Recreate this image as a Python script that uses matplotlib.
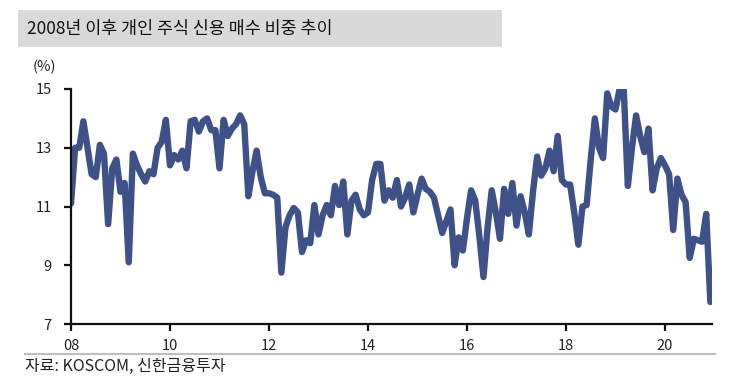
import matplotlib
matplotlib.use("Agg")
import matplotlib.pyplot as plt
from matplotlib.patches import Rectangle
from matplotlib.lines import Line2D

plt.rcParams['font.family'] = ['Noto Sans CJK KR', 'DejaVu Sans']

title = "2008년 이후 개인 주식 신용 매수 비중 추이"
source = "자료: KOSCOM, 신한금융투자"
unit_label = "(%)"

start_year = 2008
# Monthly share (%) from Jan 2008 to Dec 2020
values = [
    11.1, 13.0, 13.0, 13.9, 13.0, 12.1, 12.0, 13.1, 12.8, 10.4, 12.3, 12.6,   # 2008
    11.5, 11.8, 9.1, 12.8, 12.4, 12.1, 11.85, 12.2, 12.1, 13.0, 13.2, 13.95,  # 2009
    12.4, 12.75, 12.6, 12.9, 12.3, 13.9, 13.95, 13.55, 13.9, 14.0, 13.6, 13.6, # 2010
    12.3, 13.95, 13.4, 13.65, 13.8, 14.1, 13.8, 11.35, 12.2, 12.9, 12.0, 11.45, # 2011
    11.45, 11.4, 11.3, 8.75, 10.3, 10.7, 10.95, 10.8, 9.45, 9.85, 9.75, 11.05, # 2012
    10.05, 10.7, 11.05, 10.7, 11.7, 11.05, 11.85, 10.05, 11.2, 11.4, 10.9, 10.7, # 2013
    10.8, 11.9, 12.45, 12.45, 11.2, 11.55, 11.3, 11.9, 11.0, 11.3, 11.75, 10.8, # 2014
    11.4, 11.95, 11.6, 11.5, 11.3, 10.7, 10.1, 10.5, 10.9, 9.0, 9.95, 9.5,     # 2015
    10.6, 11.55, 11.2, 10.0, 8.6, 10.3, 11.55, 10.8, 9.9, 11.6, 10.75, 11.8,   # 2016
    10.35, 11.35, 10.8, 10.05, 11.5, 12.7, 12.05, 12.3, 12.9, 12.2, 13.4, 11.9, # 2017
    11.75, 11.75, 10.8, 9.7, 11.0, 11.05, 12.6, 14.0, 13.0, 12.65, 14.85, 14.4, # 2018
    14.3, 15.0, 15.0, 11.7, 13.0, 14.1, 13.4, 12.85, 13.65, 11.55, 12.3, 12.65, # 2019
    12.4, 12.1, 10.2, 11.95, 11.4, 11.15, 9.25, 9.9, 9.85, 9.8, 10.75, 7.75,   # 2020
]
x_ticks = [2008, 2010, 2012, 2014, 2016, 2018, 2020]
x_tick_labels = ["08", "10", "12", "14", "16", "18", "20"]
y_ticks = [7, 9, 11, 13, 15]

W, H = 745, 376
fig = plt.figure(figsize=(W / 100, H / 100), dpi=100)

# Title box
fig.patches.append(Rectangle((18 / W, 1 - 47 / H), (502 - 18) / W, 37 / H,
                             transform=fig.transFigure, facecolor='#D9D9D9',
                             edgecolor='none', zorder=0))
fig.text(27 / W, 1 - 29 / H, title, fontsize=12.5, color='#111111',
         va='center', ha='left')

ax = fig.add_axes([71 / W, 1 - 324 / H, (712 - 71) / W, (324 - 89) / H])
xs = [start_year + i / 12 for i in range(len(values))]
ax.plot(xs, values, color='#3F5189', lw=4.6, solid_joinstyle='round',
        solid_capstyle='round')

ax.set_xlim(2008, 2020.95)
ax.set_ylim(7, 15)
ax.set_xticks(x_ticks)
ax.set_xticklabels(x_tick_labels)
ax.set_yticks(y_ticks)
for s in ['top', 'right']:
    ax.spines[s].set_visible(False)
for s in ['left', 'bottom']:
    ax.spines[s].set_linewidth(1.6)
    ax.spines[s].set_color('#111111')
ax.tick_params(axis='both', direction='out', length=5, width=1.6,
               color='#111111', labelsize=10.5, labelcolor='#222222')
ax.tick_params(axis='y', pad=9)
ax.tick_params(axis='x', pad=6)

fig.text(44 / W, 1 - 67 / H, unit_label, fontsize=10.5, color='#222222',
         va='center', ha='center')

# Source line and text
fig.lines.append(Line2D([25 / W, 715 / W], [1 - 354 / H, 1 - 354 / H],
                        transform=fig.transFigure, color='#BFBFBF', lw=1.5))
fig.text(25 / W, 1 - 366 / H, source, fontsize=11.5, color='#222222',
         va='center', ha='left')

fig.savefig('out.png', dpi=100)
